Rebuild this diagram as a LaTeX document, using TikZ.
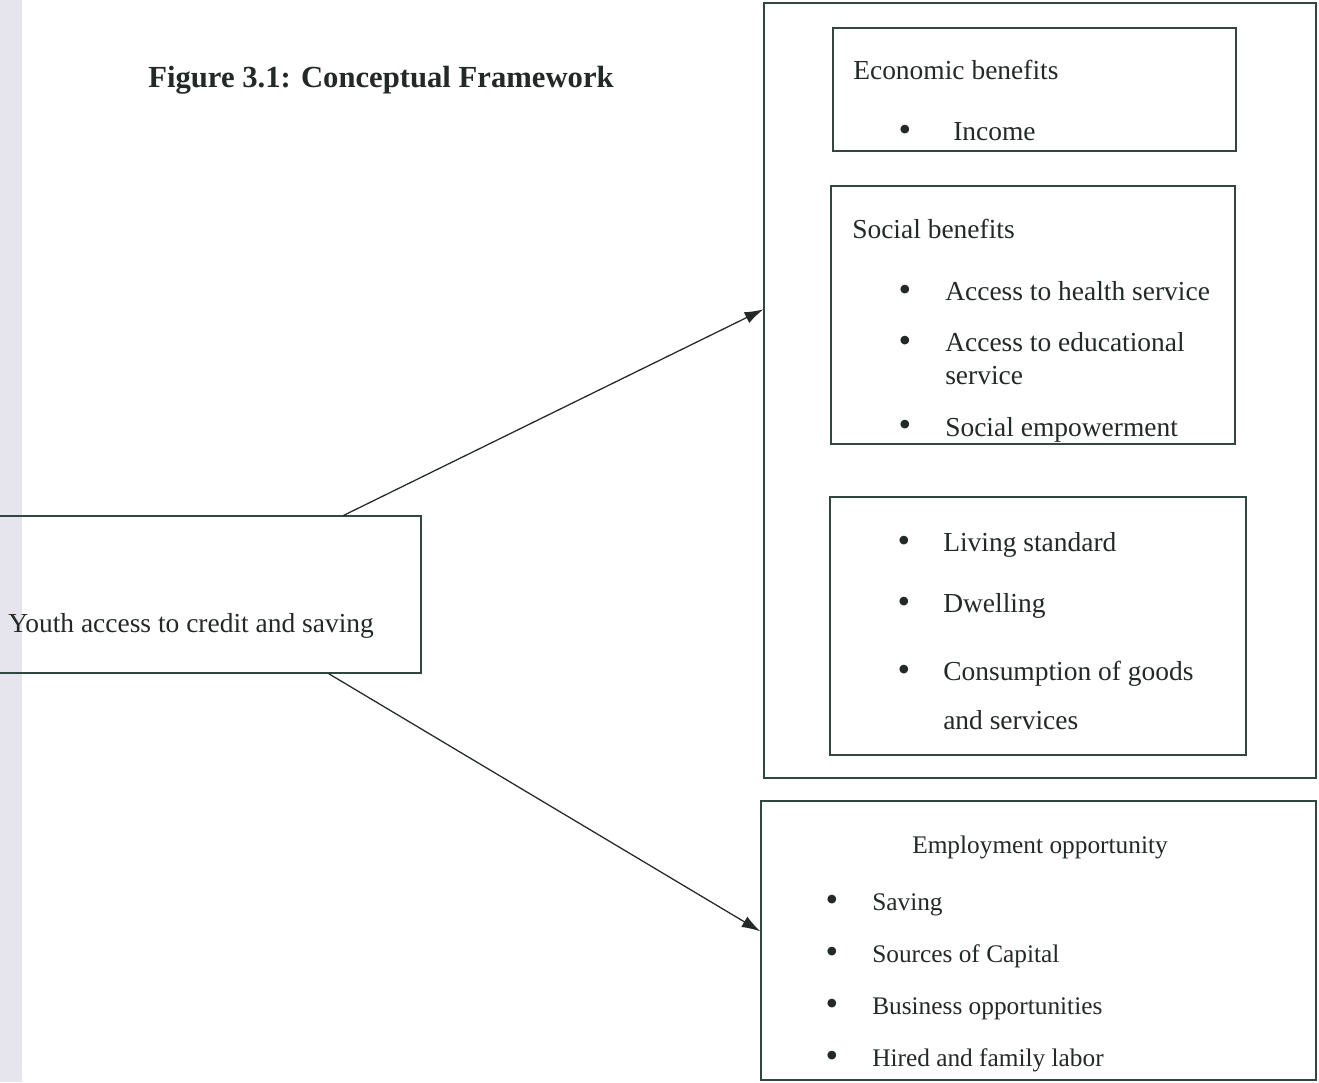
\documentclass[tikz,border=0pt]{standalone}
\usepackage{fontspec}
\setmainfont{Liberation Serif}
\usetikzlibrary{arrows.meta,fit,calc}
\definecolor{ink}{RGB}{35,42,38}
\definecolor{rule}{RGB}{48,72,62}
\definecolor{margin}{RGB}{230,228,236}
\begin{document}
\begin{tikzpicture}[x=0.75pt,y=-0.75pt,
  box/.style={draw=rule,line width=0.95pt,inner sep=0pt,fit={#1}},
  txt/.style={anchor=base west,inner sep=0pt,text=ink,font=\fontsize{20.6}{24}\selectfont},
  small/.style={txt,font=\fontsize{19}{23}\selectfont},
  bul/.style={anchor=base,inner sep=0pt,text=ink,font=\fontsize{27}{30}\selectfont},
  link/.style={draw=ink,line width=0.95pt,-{Latex[length=14pt,width=9pt]}}]

\useasboundingbox (0,0) rectangle (1319,1082);
\fill[white] (0,0) rectangle (1319,1082);
\fill[margin] (0,0) rectangle (22,1082);

% title
\node[anchor=base,inner sep=0pt,text=ink,font=\bfseries\fontsize{23}{28}\selectfont] (title) at (381,87) {Figure 3.1: Conceptual Framework};

% source box on the left
\node[box={(-20,516) (421,673)}] (youth) {};
\node[txt] (youthlbl) at (8,632) {Youth access to credit and saving};

% outcome container
\node[box={(764,3) (1316,778)}] (outer) {};

% economic benefits
\node[box={(833,28) (1236,151)}] (econ) {};
\node[txt] (econhd) at (853,79) {Economic benefits};
\node[bul] (eb1) at (905,141) {\textbullet};
\node[txt] (income) at (953,140) {Income};

% social benefits
\node[box={(831,186) (1235,444)}] (social) {};
\node[txt] (socialhd) at (852,238) {Social benefits};
\node[bul] (sb1) at (905,301) {\textbullet};
\node[txt] (health) at (945,300) {Access to health service};
\node[bul] (sb2) at (905,352) {\textbullet};
\node[txt] (edu) at (945,351) {Access to educational};
\node[txt] (edu2) at (945,384) {service};
\node[bul] (sb3) at (905,436) {\textbullet};
\begin{scope}
  \clip (social.south west) rectangle (social.north east);
  \node[txt] (empow) at (945,436) {Social empowerment};
\end{scope}

% living conditions
\node[box={(830,497) (1246,755)}] (living) {};
\node[bul] (lb1) at (904,552) {\textbullet};
\node[txt] (standard) at (943,551) {Living standard};
\node[bul] (lb2) at (904,613) {\textbullet};
\node[txt] (dwelling) at (943,612) {Dwelling};
\node[bul] (lb3) at (904,681) {\textbullet};
\node[txt] (consume) at (943,680) {Consumption of goods};
\node[txt] (consume2) at (943,729) {and services};

% employment opportunity
\node[box={(761,801) (1316,1080)}] (emp) {};
\node[small,anchor=base] (emphd) at (1040,853) {Employment opportunity};
\node[bul] (mb1) at (832,911) {\textbullet};
\node[small] (saving) at (872,910) {Saving};
\node[bul] (mb2) at (832,963) {\textbullet};
\node[small] (capital) at (872,962) {Sources of Capital};
\node[bul] (mb3) at (832,1015) {\textbullet};
\node[small] (business) at (872,1014) {Business opportunities};
\node[bul] (mb4) at (832,1067) {\textbullet};
\node[small] (labor) at (872,1066) {Hired and family labor};

% connectors
\draw[link] ($(youth.north east)+(-78,0)$) -- ($(outer.north west)+(0,307)$);
\draw[link] ($(youth.south east)+(-93,0)$) -- ($(emp.north west)+(0,131)$);
\end{tikzpicture}
\end{document}
